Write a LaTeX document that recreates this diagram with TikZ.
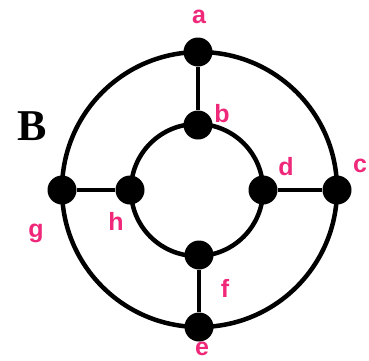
\documentclass[tikz,border=0pt]{standalone}
\usepackage{fontspec}
\setmainfont{Liberation Serif}
\setsansfont{Liberation Sans}
\definecolor{labelpink}{HTML}{F0287A}
\begin{document}
\begin{tikzpicture}[x=1pt,y=-1pt,
  vertex/.style={circle,fill=black,inner sep=0pt,minimum size=29pt},
  edge/.style={line width=4.5pt,black},
  lbl/.style={text=labelpink,font=\sffamily\bfseries\fontsize{25}{28}\selectfont,anchor=base,inner sep=0pt}]
\useasboundingbox (0,0) rectangle (369,360);
\coordinate (oc) at (199.5,189.5);
\coordinate (ic) at (197,190);
\draw[edge] (oc) circle[radius=137.5pt];
\draw[edge] (ic) circle[radius=66pt];
\node[vertex] (a) at (198,52) {};
\node[vertex] (b) at (198,125) {};
\node[vertex] (c) at (337,190) {};
\node[vertex] (d) at (263,190) {};
\node[vertex] (e) at (199,327) {};
\node[vertex] (f) at (199,255) {};
\node[vertex] (g) at (62,190) {};
\node[vertex] (h) at (130,190) {};
\draw[edge] (a) -- (b);
\draw[edge] (g) -- (h);
\draw[edge] (d) -- (c);
\draw[edge] (f) -- (e);
\node[lbl] (la) at (199,23) {a};
\node[lbl] (lb) at (222,122) {b};
\node[lbl] (lc) at (360,172) {c};
\node[lbl] (ld) at (286,175) {d};
\node[lbl] (le) at (202,355) {e};
\node[lbl] (lf) at (225,297) {f};
\node[lbl] (lg) at (36,237) {g};
\node[lbl] (lh) at (116,230) {h};
\node[font=\rmfamily\bfseries\fontsize{44}{48}\selectfont,inner sep=0pt] (B) at (32,126) {B};
\end{tikzpicture}
\end{document}
